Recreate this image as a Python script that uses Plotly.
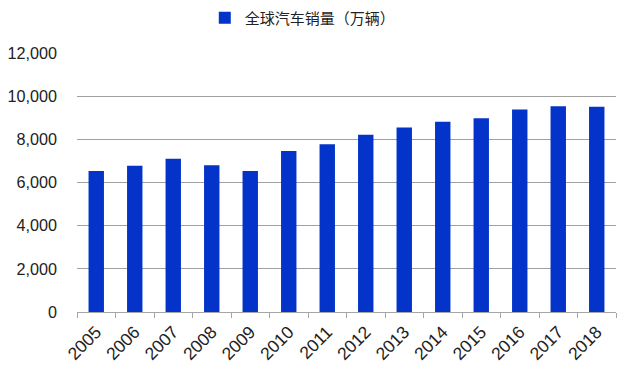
import plotly.graph_objects as go

years = ["2005", "2006", "2007", "2008", "2009", "2010", "2011",
         "2012", "2013", "2014", "2015", "2016", "2017", "2018"]
sales = [6530, 6775, 7100, 6805, 6530, 7460, 7770,
         8215, 8545, 8820, 8975, 9380, 9535, 9505]
series_name = "全球汽车销量（万辆）"
y_ticks = [0, 2000, 4000, 6000, 8000, 10000, 12000]
y_tick_text = ["0", "2,000", "4,000", "6,000", "8,000", "10,000", "12,000"]

FONT = "Liberation Sans, Arial, Noto Sans CJK SC"

fig = go.Figure()
fig.add_trace(go.Bar(
    x=years, y=sales, name=series_name,
    marker=dict(color="#0333C9", line=dict(width=0)),
    showlegend=True,
))

fig.update_layout(
    width=618, height=369,
    margin=dict(l=69, r=10, t=45, b=65, autoexpand=False),
    paper_bgcolor="white", plot_bgcolor="white",
    bargap=0.6,
    font=dict(family=FONT, size=17, color="#222222"),
    legend=dict(
        orientation="h", x=0.477, xref="container", xanchor="center",
        y=1.135, yref="paper", yanchor="middle",
        font=dict(family="Noto Sans CJK SC, Liberation Sans", size=15, color="#222222"),
        itemwidth=30,
    ),
    xaxis=dict(
        type="category", tickangle=-45, showgrid=False,
        showline=True, linecolor="#A6A6A6", linewidth=1,
        ticks="outside", tickson="boundaries", ticklen=5, tickcolor="#A6A6A6",
        tickfont=dict(size=17.5, color="#222222"),
        ticklabelstandoff=2,
    ),
    yaxis=dict(
        range=[0, 12000], tickvals=y_ticks, ticktext=y_tick_text,
        showgrid=True, gridcolor="#A0A0A0", gridwidth=1,
        zeroline=False, showline=False, ticks="",
        ticklabelstandoff=19,
        tickfont=dict(size=16.2, color="#222222"),
    ),
)

fig.write_html("out.html")
